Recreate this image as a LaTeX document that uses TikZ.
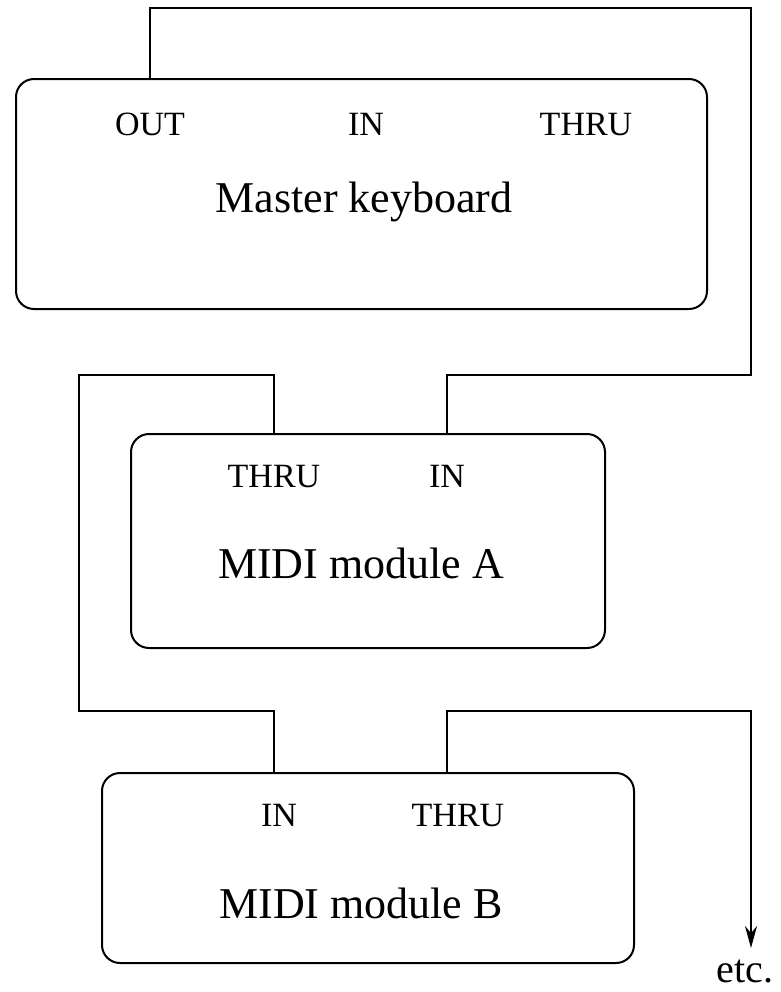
\documentclass[tikz,border=0pt]{standalone}
\usepackage{fontspec}
\setmainfont{Liberation Serif}
\usetikzlibrary{arrows.meta}
\tikzset{
  unit/.style={draw=black,line width=1pt,rounded corners=9pt,inner sep=0pt},
  port/.style={anchor=base,font=\fontsize{17}{20}\selectfont},
  title/.style={anchor=base,font=\fontsize{22}{26}\selectfont},
  cable/.style={draw=black,line width=1pt}
}

\begin{document}
\begin{tikzpicture}[x=0.5pt,y=-0.5pt]
\useasboundingbox (0,0) rectangle (781,992);

\node[unit,minimum width=345.5pt,minimum height=115pt] (K) at (361.5,194) {};
\node[unit,minimum width=237pt,minimum height=107pt] (A) at (368,541) {};
\node[unit,minimum width=266pt,minimum height=95pt] (B) at (368,868) {};

\node[port] (Kout) at (150,135) {OUT};
\node[port] (Kin) at (366,135) {IN};
\node[port] (Kthru) at (586,135) {THRU};
\node[title] (Kname) at (364,212) {Master keyboard};

\node[port] (Athru) at (274,487) {THRU};
\node[port] (Ain) at (447,487) {IN};
\node[title] (Aname) at (361,578) {MIDI module A};

\node[port] (Bin) at (279,826) {IN};
\node[port] (Bthru) at (458,826) {THRU};
\node[title] (Bname) at (361,918) {MIDI module B};

\node[port,font=\fontsize{20}{24}\selectfont] (etc) at (745,982) {etc.};

\coordinate (k1) at (751,8);
\coordinate (k2) at (751,375);
\coordinate (a1) at (79,375);
\coordinate (a2) at (79,711);
\coordinate (b1) at (751,711);
\coordinate (b2) at (751,948);

% keyboard OUT -> module A IN
\draw[cable] (K.north -| Kout) |- (k1) -- (k2) -| (A.north -| Ain);
% module A THRU -> module B IN
\draw[cable] (A.north -| Athru) |- (a1) -- (a2) -| (B.north -| Athru);
% module B THRU -> next one
\draw[cable,-{Stealth[length=11pt,width=6pt]}] (B.north -| Ain) |- (b1) -- (b2);
\end{tikzpicture}
\end{document}
